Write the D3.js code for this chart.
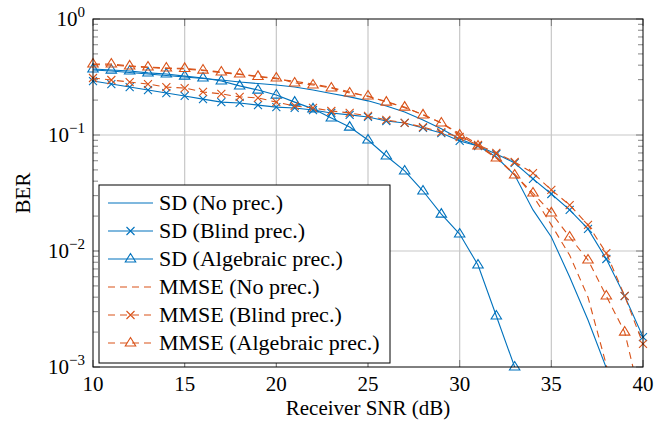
<!DOCTYPE html>
<html>
<head>
<meta charset="utf-8">
<script src="https://cdn.jsdelivr.net/npm/d3@7"></script>
<style>
  body { margin: 0; background: #fff; }
  svg { display: block; }
</style>
</head>
<body>
<div id="chart"></div>
<script>
const snr = [10, 11, 12, 13, 14, 15, 16, 17, 18, 19, 20, 21, 22, 23, 24, 25,
  26, 27, 28, 29, 30, 31, 32, 33, 34, 35, 36, 37, 38, 39, 40];

const sdNoPrec = [0.363, 0.356, 0.346, 0.336, 0.326, 0.316, 0.307, 0.298, 0.286, 0.278,
  0.270, 0.259, 0.244, 0.228, 0.213, 0.197, 0.178, 0.158, 0.135, 0.113,
  0.0924, 0.0804, 0.0646, 0.0452, 0.0226, 0.0132, 0.00597, 0.00254, 0.00098, 0.0003];
const sdBlind = [0.292, 0.275, 0.259, 0.244, 0.230, 0.217, 0.204, 0.192, 0.189, 0.181,
  0.174, 0.171, 0.164, 0.155, 0.149, 0.143, 0.132, 0.127, 0.115, 0.104,
  0.0888, 0.0804, 0.0686, 0.0574, 0.0418, 0.031, 0.0226, 0.0155, 0.00853, 0.00409, 0.00181];
const sdAlgebraic = [0.371, 0.363, 0.356, 0.343, 0.336, 0.322, 0.310, 0.292, 0.265, 0.244,
  0.221, 0.192, 0.168, 0.140, 0.117, 0.0906, 0.0659, 0.049, 0.0329, 0.0208,
  0.0140, 0.00757, 0.00275, 0.001];
const mmseNoPrec = [0.405, 0.400, 0.390, 0.382, 0.375, 0.370, 0.360, 0.345, 0.333, 0.318,
  0.305, 0.290, 0.275, 0.257, 0.235, 0.215, 0.195, 0.172, 0.150, 0.127,
  0.103, 0.083, 0.064, 0.046, 0.030, 0.0168, 0.0092, 0.0040, 0.00104, 0.0002];
const mmseBlind = [0.310, 0.298, 0.286, 0.275, 0.259, 0.254, 0.235, 0.226, 0.213, 0.209,
  0.192, 0.178, 0.171, 0.161, 0.155, 0.146, 0.135, 0.127, 0.117, 0.106,
  0.0961, 0.082, 0.070, 0.0585, 0.047, 0.0336, 0.0249, 0.0168, 0.0096, 0.0041, 0.00158];
const mmseAlgebraic = [0.409, 0.409, 0.394, 0.386, 0.378, 0.375, 0.363, 0.349, 0.336, 0.320,
  0.310, 0.281, 0.270, 0.254, 0.230, 0.217, 0.192, 0.174, 0.149, 0.127,
  0.100, 0.0804, 0.0633, 0.0452, 0.0316, 0.0213, 0.0132, 0.00836, 0.00409, 0.00200, 0.00043];

const xTicks = [10, 15, 20, 25, 30, 35, 40];
const yExponents = [0, -1, -2, -3];

const blue = '#0072bd';
const orange = '#d95319';

const series = [
  { label: 'SD (No prec.)', values: sdNoPrec, color: blue, dash: null, mark: null },
  { label: 'SD (Blind prec.)', values: sdBlind, color: blue, dash: null, mark: 'x' },
  { label: 'SD (Algebraic prec.)', values: sdAlgebraic, color: blue, dash: null, mark: 'tri' },
  { label: 'MMSE (No prec.)', values: mmseNoPrec, color: orange, dash: '7,5', mark: null },
  { label: 'MMSE (Blind prec.)', values: mmseBlind, color: orange, dash: '7,5', mark: 'x' },
  { label: 'MMSE (Algebraic prec.)', values: mmseAlgebraic, color: orange, dash: '7,5', mark: 'tri' },
];

const WIDTH = 656;
const HEIGHT = 423;
const plot = { left: 93, right: 643, top: 19, bottom: 367 };
const fontFamily = 'Liberation Serif';
const fontSize = 21;

const x = d3.scaleLinear().domain([10, 40]).range([plot.left, plot.right]);
const y = d3.scaleLog().domain([1e-3, 1]).range([plot.bottom, plot.top]);

const svg = d3.select('#chart').append('svg')
  .attr('width', WIDTH).attr('height', HEIGHT)
  .attr('font-family', fontFamily);

svg.append('defs').append('clipPath').attr('id', 'clip')
  .append('rect')
  .attr('x', plot.left).attr('y', plot.top)
  .attr('width', plot.right - plot.left).attr('height', plot.bottom - plot.top);

// grid
const grid = svg.append('g').attr('stroke', '#c8c8c8').attr('stroke-width', 1.2);
grid.selectAll('.vx').data(xTicks.slice(1, -1)).join('line')
  .attr('x1', (d) => x(d)).attr('x2', (d) => x(d))
  .attr('y1', plot.top).attr('y2', plot.bottom);
grid.selectAll('.hy').data(yExponents.slice(1, -1)).join('line')
  .attr('y1', (d) => y(10 ** d)).attr('y2', (d) => y(10 ** d))
  .attr('x1', plot.left).attr('x2', plot.right);

// minor ticks on log axis
const minor = [];
[-3, -2, -1].forEach((e) => {
  for (let m = 2; m <= 9; m++) minor.push(m * 10 ** e);
});
const ticks = svg.append('g').attr('stroke', '#666').attr('stroke-width', 0.8);
ticks.selectAll('.ml').data(minor).join('line')
  .attr('x1', plot.left).attr('x2', plot.left + 5)
  .attr('y1', (d) => y(d)).attr('y2', (d) => y(d));
ticks.selectAll('.mr').data(minor).join('line')
  .attr('x1', plot.right).attr('x2', plot.right - 5)
  .attr('y1', (d) => y(d)).attr('y2', (d) => y(d));
ticks.selectAll('.Ml').data(yExponents).join('line')
  .attr('x1', plot.left).attr('x2', plot.left + 7)
  .attr('y1', (d) => y(10 ** d)).attr('y2', (d) => y(10 ** d));
ticks.selectAll('.Mr').data(yExponents).join('line')
  .attr('x1', plot.right).attr('x2', plot.right - 7)
  .attr('y1', (d) => y(10 ** d)).attr('y2', (d) => y(10 ** d));
ticks.selectAll('.Mb').data(xTicks).join('line')
  .attr('x1', (d) => x(d)).attr('x2', (d) => x(d))
  .attr('y1', plot.bottom).attr('y2', plot.bottom - 7);
ticks.selectAll('.Mt').data(xTicks).join('line')
  .attr('x1', (d) => x(d)).attr('x2', (d) => x(d))
  .attr('y1', plot.top).attr('y2', plot.top + 7);

// curves
const line = d3.line()
  .x((d) => x(d[0]))
  .y((d) => y(d[1]));

const drawMark = (g, kind, cx, cy, color) => {
  if (kind === 'x') {
    const r = 4;
    g.append('path')
      .attr('d', `M${cx - r},${cy - r}L${cx + r},${cy + r}M${cx - r},${cy + r}L${cx + r},${cy - r}`)
      .attr('stroke', color).attr('stroke-width', 1.1).attr('fill', 'none');
  } else if (kind === 'tri') {
    const r = 5.5;
    g.append('path')
      .attr('d', `M${cx},${cy - r}L${cx + r * 0.95},${cy + r * 0.55}L${cx - r * 0.95},${cy + r * 0.55}Z`)
      .attr('stroke', color).attr('stroke-width', 1.1).attr('fill', 'none');
  }
};

series.forEach((s) => {
  const pts = s.values.map((v, i) => [snr[i], v]);
  svg.append('path')
    .datum(pts)
    .attr('clip-path', 'url(#clip)')
    .attr('d', line)
    .attr('fill', 'none')
    .attr('stroke', s.color)
    .attr('stroke-width', 1.1)
    .attr('stroke-dasharray', s.dash);
  if (s.mark) {
    const mg = svg.append('g');
    pts.filter((p) => p[1] >= 1e-3 * 0.999).forEach((p) => {
      drawMark(mg, s.mark, x(p[0]), y(p[1]), s.color);
    });
  }
});

// frame
svg.append('rect')
  .attr('x', plot.left).attr('y', plot.top)
  .attr('width', plot.right - plot.left).attr('height', plot.bottom - plot.top)
  .attr('fill', 'none').attr('stroke', '#000').attr('stroke-width', 1);

// tick labels
svg.append('g').selectAll('text').data(xTicks).join('text')
  .attr('x', (d) => x(d)).attr('y', plot.bottom + 24)
  .attr('text-anchor', 'middle').attr('font-size', fontSize)
  .attr('font-family', fontFamily)
  .text((d) => d);

const yl = svg.append('g').selectAll('text').data(yExponents).join('text')
  .attr('x', plot.left - 8).attr('y', (d) => y(10 ** d) + 7)
  .attr('text-anchor', 'end').attr('font-size', fontSize)
  .attr('font-family', fontFamily);
yl.append('tspan').text('10');
yl.append('tspan').attr('dy', -9).attr('font-size', 15)
  .text((d) => (d === 0 ? '0' : '\u2212' + Math.abs(d)));

// axis labels
svg.append('text')
  .attr('x', (plot.left + plot.right) / 2).attr('y', 415)
  .attr('text-anchor', 'middle').attr('font-size', fontSize)
  .attr('font-family', fontFamily)
  .text('Receiver SNR (dB)');
svg.append('text')
  .attr('transform', `translate(30, ${(plot.top + plot.bottom) / 2}) rotate(-90)`)
  .attr('text-anchor', 'middle').attr('font-size', fontSize)
  .attr('font-family', fontFamily)
  .text('BER');

// legend
const legend = svg.append('g').attr('transform', 'translate(99, 185)');
legend.append('rect')
  .attr('width', 291).attr('height', 178)
  .attr('fill', '#fff').attr('stroke', '#000').attr('stroke-width', 1);
series.forEach((s, i) => {
  const ry = 18 + i * 28;
  legend.append('line')
    .attr('x1', 9).attr('x2', 54).attr('y1', ry).attr('y2', ry)
    .attr('stroke', s.color).attr('stroke-width', 1.1)
    .attr('stroke-dasharray', s.dash ? '7,5' : null);
  if (s.mark) drawMark(legend, s.mark, 31.5, ry, s.color);
  legend.append('text')
    .attr('x', 60).attr('y', ry + 7)
    .attr('font-size', 22)
    .attr('font-family', fontFamily)
    .text(s.label);
});
</script>
</body>
</html>
